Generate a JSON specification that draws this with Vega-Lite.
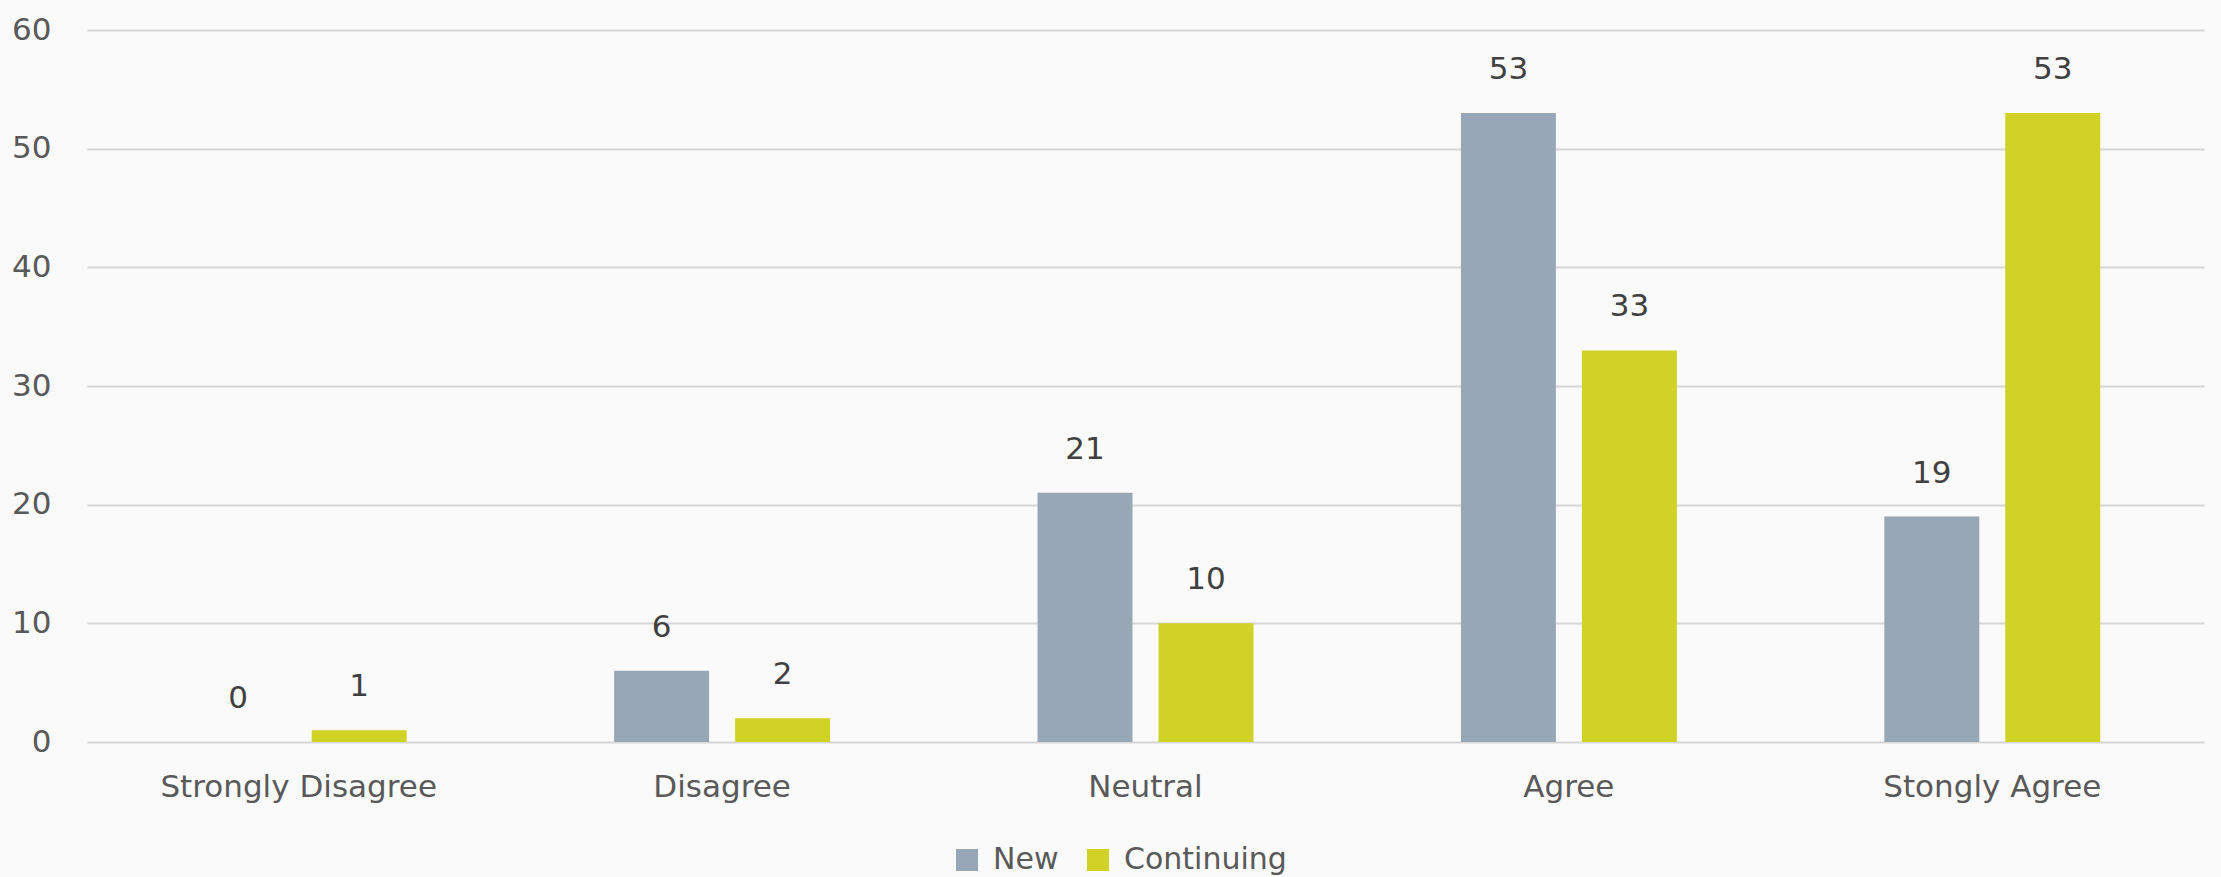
{
  "$schema": "https://vega.github.io/schema/vega-lite/v6.json",
  "autosize": "none",
  "width": 2117,
  "height": 712,
  "padding": {"left": 87, "top": 30, "right": 17, "bottom": 135},
  "background": "#FAFAFA",
  "config": {
    "font": "DejaVu Sans",
    "view": {"stroke": null},
    "axis": {"labelFont": "DejaVu Sans", "labelFontSize": 31, "labelColor": "#595959", "labelLimit": 0}
  },
  "data": {
    "values": [
      {"category": "Strongly Disagree", "group": "New", "value": 0},
      {"category": "Strongly Disagree", "group": "Continuing", "value": 1},
      {"category": "Disagree", "group": "New", "value": 6},
      {"category": "Disagree", "group": "Continuing", "value": 2},
      {"category": "Neutral", "group": "New", "value": 21},
      {"category": "Neutral", "group": "Continuing", "value": 10},
      {"category": "Agree", "group": "New", "value": 53},
      {"category": "Agree", "group": "Continuing", "value": 33},
      {"category": "Stongly Agree", "group": "New", "value": 19},
      {"category": "Stongly Agree", "group": "Continuing", "value": 53}
    ]
  },
  "encoding": {
    "x": {
      "field": "category", "type": "nominal",
      "sort": ["Strongly Disagree", "Disagree", "Neutral", "Agree", "Stongly Agree"],
      "scale": {"paddingInner": 0.49, "paddingOuter": 0.245},
      "axis": {"title": null, "labelAngle": 0, "ticks": false, "domain": false, "labelPadding": 30, "grid": false}
    },
    "xOffset": {
      "field": "group", "type": "nominal",
      "sort": ["New", "Continuing"],
      "scale": {"paddingInner": 0.215, "paddingOuter": 0}
    },
    "y": {
      "field": "value", "type": "quantitative",
      "scale": {"domain": [0, 60], "nice": false},
      "axis": {"title": null, "values": [0, 10, 20, 30, 40, 50, 60], "ticks": false, "domain": false, "labelPadding": 36, "gridColor": "#D6D6D6", "gridWidth": 2}
    }
  },
  "layer": [
    {
      "mark": {"type": "bar"},
      "encoding": {
        "color": {
          "field": "group", "type": "nominal",
          "sort": ["New", "Continuing"],
          "scale": {"domain": ["New", "Continuing"], "range": ["#97A7B6", "#D0D226"]},
          "legend": {
            "title": null, "orient": "none", "direction": "horizontal",
            "legendX": 865, "legendY": 815,
            "symbolType": "square", "symbolSize": 484, "symbolStrokeWidth": 0,
            "labelFontSize": 30, "labelColor": "#595959", "labelOffset": 11, "labelLimit": 0,
            "columnPadding": 24, "padding": 0
          }
        }
      }
    },
    {
      "mark": {"type": "text", "baseline": "alphabetic", "dy": -34, "fontSize": 31, "color": "#404040"},
      "encoding": {"text": {"field": "value", "type": "quantitative"}}
    }
  ]
}
